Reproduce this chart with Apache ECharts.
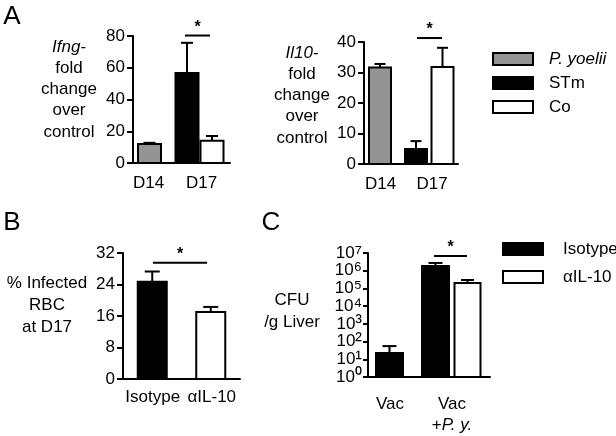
<!DOCTYPE html>
<html>
<head>
<meta charset="utf-8">
<script src="https://cdn.jsdelivr.net/npm/echarts@6/dist/echarts.min.js"></script>
<style>html,body{margin:0;padding:0;background:#fff}#c{width:616px;height:436px}</style>
</head>
<body>
<div id="c"></div>
<script>
// ---------- data ----------
const catsA = ['D14', 'D17'];
const ifngPyoelii = [12.0, null];
const ifngPyoeliiSem = [0.7, null];
const ifngSTm = [null, 56.7];
const ifngSTmSem = [null, 19.0];
const ifngCo = [null, 14.0];
const ifngCoSem = [null, 3.0];

const il10Pyoelii = [31.6, null];
const il10PyoeliiSem = [1.2, null];
const il10STm = [null, 4.9];
const il10STmSem = [null, 2.6];
const il10Co = [null, 31.8];
const il10CoSem = [null, 6.3];

const catsB = ['Isotype', 'αIL-10'];
const rbcIsotype = [24.7, null];
const rbcIsotypeSem = [2.6, null];
const rbcAIL10 = [null, 17.0];
const rbcAIL10Sem = [null, 1.3];

const catsC = ['Vac', 'Vac +P. y.'];
const cfuIsotype = [22.6, 1.85e6];
const cfuIsotypeSem = [33, 0.89e6];
const cfuAIL10 = [null, 2.03e5];
const cfuAIL10Sem = [null, 0.97e5];

// significance bars: [fromCategory, toCategory, height]
const sigIfng = [1, 1, 80.3];
const sigIl10 = [1, 1, 41.3];
const sigRbc = [0, 1, 29.5];
const sigCfu = [1, 1, 6.8e6];

const ticksIfng = [0, 80, 20];
const ticksIl10 = [0, 40, 10];
const ticksRbc = [0, 32, 8];
const ticksCfu = [1, 1e7];
const cfuTickValues = [1, 10, 100, 1e3, 1e4, 1e5, 1e6, 1e7];
const superDigits = ['⁰', '¹', '²', '³', '⁴', '⁵', '⁶', '⁷'];

// ---------- style ----------
const FONT = 'Liberation Sans, Arial, sans-serif';
const GRAY = '#939393';
const BLACK = '#000000';
const WHITE = '#ffffff';

function toData(vals, sems) {
  const out = [];
  vals.forEach((v, i) => { if (v != null) out.push([i, v, v + sems[i]]); });
  return out;
}

function barSeries(name, idx, vals, sems, fill, offsets, width, base) {
  return {
    type: 'custom', name: name, xAxisIndex: idx, yAxisIndex: idx,
    itemStyle: { color: fill, borderColor: '#000', borderWidth: 2 },
    encode: { x: 0, y: 1 },
    data: toData(vals, sems),
    clip: false,
    renderItem: function (params, api) {
      const ci = api.value(0);
      const top = api.coord([ci, api.value(1)]);
      const bot = api.coord([ci, base]);
      const err = api.coord([ci, api.value(2)]);
      const cx = top[0] + offsets[ci];
      const capW = Math.round(width * 0.5);
      return {
        type: 'group',
        children: [
          { type: 'line', shape: { x1: cx, y1: top[1], x2: cx, y2: err[1] }, style: { stroke: '#000', lineWidth: 2 } },
          { type: 'line', shape: { x1: cx - capW / 2, y1: err[1], x2: cx + capW / 2, y2: err[1] }, style: { stroke: '#000', lineWidth: 2 } },
          { type: 'rect', shape: { x: cx - width / 2, y: top[1], width: width, height: bot[1] - top[1] }, style: { fill: fill, stroke: '#000', lineWidth: 2 } }
        ]
      };
    }
  };
}

function sigSeries(idx, sig, offA, offB) {
  return {
    type: 'custom', xAxisIndex: idx, yAxisIndex: idx, silent: true,
    encode: { x: 0, y: 2 }, clip: false,
    data: [sig],
    renderItem: function (params, api) {
      const p1 = api.coord([api.value(0), api.value(2)]);
      const p2 = api.coord([api.value(1), api.value(2)]);
      const x1 = p1[0] + offA, x2 = p2[0] + offB, y = p1[1];
      return {
        type: 'group',
        children: [
          { type: 'line', shape: { x1: x1, y1: y, x2: x2, y2: y }, style: { stroke: '#000', lineWidth: 2 } },
          { type: 'text', style: { x: (x1 + x2) / 2, y: y - 8, text: '*', fill: '#000', font: 'bold 16px ' + FONT, align: 'center', verticalAlign: 'middle' } }
        ]
      };
    }
  };
}

// log-axis tick labels (10^n) placed through the axis scale
function logLabelSeries(idx, values) {
  return {
    type: 'custom', xAxisIndex: idx, yAxisIndex: idx, silent: true,
    encode: { x: 0, y: 1 }, clip: false,
    data: values.map(v => [0, v]),
    renderItem: function (params, api) {
      const v = api.value(1);
      const p = api.coord([0, v]);
      const ax = params.coordSys.x;
      return {
        type: 'text',
        style: {
          x: ax - 6, y: p[1],
          text: '{b|10}{s|' + superDigits[Math.round(Math.log10(v))] + '}',
          align: 'right', verticalAlign: 'middle',
          rich: {
            b: { fontSize: 17, fontFamily: FONT, fill: '#000', lineHeight: 17 },
            s: { fontSize: 20, fontFamily: FONT, fill: '#000', lineHeight: 17 }
          }
        }
      };
    }
  };
}

function shiftRich(shifts) {
  const rich = {};
  shifts.forEach((s, i) => {
    rich['L' + i] = { fontSize: 17, fontFamily: FONT, color: '#000', padding: s < 0 ? [0, -2 * s, 0, 0] : [0, 0, 0, 2 * s] };
  });
  return rich;
}

function catAxis(idx, cats, shifts, margin) {
  return {
    type: 'category', gridIndex: idx, data: cats,
    axisLine: { lineStyle: { color: '#000', width: 2 } },
    axisTick: { show: false },
    axisLabel: {
      margin: margin, interval: 0,
      formatter: (v, i) => '{L' + i + '|' + v + '}',
      rich: shiftRich(shifts)
    }
  };
}

function valAxis(idx, t) {
  return {
    type: 'value', gridIndex: idx, min: t[0], max: t[1], interval: t[2],
    splitLine: { show: false },
    axisLine: { show: true, lineStyle: { color: '#000', width: 2 } },
    axisTick: { show: true, length: 6, lineStyle: { color: '#000', width: 2 } },
    axisLabel: { color: '#000', fontSize: 17, fontFamily: FONT, margin: 8, showMinLabel: true, showMaxLabel: true }
  };
}

const chart = echarts.init(document.getElementById('c'), null, { renderer: 'canvas' });

const xC = catAxis(3, catsC, [0, 0], 17);
xC.axisLabel.formatter = (v, i) => i === 0 ? '{a|Vac}' : '{b|Vac}\n{c|+}{d|P. y.}';
xC.axisLabel.lineHeight = 21;
xC.axisLabel.rich = {
  a: { fontSize: 17, fontFamily: FONT, color: '#000', lineHeight: 21, padding: [0, 17, 0, 0] },
  b: { fontSize: 17, fontFamily: FONT, color: '#000', lineHeight: 21, padding: [0, 15, 0, 0] },
  c: { fontSize: 17, fontFamily: FONT, color: '#000', lineHeight: 21 },
  d: { fontSize: 17, fontFamily: FONT, color: '#000', lineHeight: 21, fontStyle: 'italic', padding: [0, 15, 0, 0] }
};

const yC = {
  type: 'log', gridIndex: 3, logBase: 10, min: ticksCfu[0], max: ticksCfu[1], interval: 1,
  splitLine: { show: false },
  axisLine: { show: true, lineStyle: { color: '#000', width: 2 } },
  axisTick: { show: true, length: 5, lineStyle: { color: '#000', width: 2 } },
  axisLabel: { show: false }
};

const option = {
  animation: false,
  backgroundColor: '#fff',
  textStyle: { fontFamily: FONT },
  grid: [
    { left: 133, top: 36, width: 97, height: 127, outerBoundsMode: 'none' },
    { left: 364, top: 42, width: 94, height: 122, outerBoundsMode: 'none' },
    { left: 123, top: 253, width: 117, height: 126, outerBoundsMode: 'none' },
    { left: 368, top: 253, width: 122, height: 124, outerBoundsMode: 'none' }
  ],
  xAxis: [
    catAxis(0, catsA, [-8.75, -4.25], 12),
    catAxis(1, catsA, [-7, -2.5], 12),
    catAxis(2, catsB, [0.5, 1], 10),
    xC
  ],
  yAxis: [valAxis(0, ticksIfng), valAxis(1, ticksIl10), valAxis(2, ticksRbc), yC],
  legend: [
    {
      data: ['P. yoelii', 'STm', 'Co'], orient: 'vertical', left: 492, top: 50.5, padding: 0,
      icon: 'rect', itemWidth: 40, itemHeight: 12, itemGap: 7, selectedMode: false,
      itemStyle: { borderColor: '#000', borderWidth: 2 },
      formatter: n => n === 'P. yoelii' ? '{i|P. yoelii}' : n,
      textStyle: { fontSize: 17, lineHeight: 17, color: '#000', fontFamily: FONT, padding: [0, 0, 0, 11],
        rich: { i: { fontStyle: 'italic', fontSize: 17, fontFamily: FONT, color: '#000' } } }
    },
    {
      data: ['Isotype', 'αIL-10'], orient: 'vertical', left: 502, top: 240.5, padding: 0,
      icon: 'rect', itemWidth: 40, itemHeight: 12, itemGap: 11, selectedMode: false,
      itemStyle: { borderColor: '#000', borderWidth: 2 },
      textStyle: { fontSize: 17, lineHeight: 17, color: '#000', fontFamily: FONT, padding: [0, 0, 0, 15] }
    }
  ],
  series: [
    barSeries('P. yoelii', 0, ifngPyoelii, ifngPyoeliiSem, GRAY, [-7.75, 0], 23, 0),
    barSeries('STm', 0, ifngSTm, ifngSTmSem, BLACK, [0, -18.75], 23, 0),
    barSeries('Co', 0, ifngCo, ifngCoSem, WHITE, [0, 6.25], 23, 0),
    sigSeries(0, sigIfng, -20.75, 4.25),

    barSeries('P. yoelii', 1, il10Pyoelii, il10PyoeliiSem, GRAY, [-7.5, 0], 22, 0),
    barSeries('STm', 1, il10STm, il10STmSem, BLACK, [0, -18.5], 22, 0),
    barSeries('Co', 1, il10Co, il10CoSem, WHITE, [0, 8], 22, 0),
    sigSeries(1, sigIl10, -17.5, 7.5),

    barSeries('Isotype', 2, rbcIsotype, rbcIsotypeSem, BLACK, [0, 0], 29, 0),
    barSeries('αIL-10', 2, rbcAIL10, rbcAIL10Sem, WHITE, [0, 0], 29, 0),
    sigSeries(2, sigRbc, 0.75, -3.75),

    barSeries('Isotype', 3, cfuIsotype, cfuIsotypeSem, BLACK, [-9, -24], 27, 1),
    barSeries('αIL-10', 3, cfuAIL10, cfuAIL10Sem, WHITE, [0, 8], 26, 1),
    sigSeries(3, sigCfu, -25.5, 7.5),
    logLabelSeries(3, cfuTickValues)
  ],
  graphic: [
    { type: 'text', style: { x: 12, y: 17, text: 'A', font: '26px ' + FONT, fill: '#000', align: 'center', verticalAlign: 'middle' } },
    { type: 'text', style: { x: 12, y: 223, text: 'B', font: '26px ' + FONT, fill: '#000', align: 'center', verticalAlign: 'middle' } },
    { type: 'text', style: { x: 271, y: 223, text: 'C', font: '26px ' + FONT, fill: '#000', align: 'center', verticalAlign: 'middle' } },
    { type: 'text', style: { x: 69, y: 89.5, text: '{i|Ifng-}\nfold\nchange\nover\ncontrol', font: '17px ' + FONT, lineHeight: 21.25, fill: '#000', align: 'center', verticalAlign: 'middle',
        rich: { i: { fontStyle: 'italic', fontSize: 17, fontFamily: FONT, lineHeight: 21.25 } } } },
    { type: 'text', style: { x: 302, y: 95.5, text: '{i|Il10-}\nfold\nchange\nover\ncontrol', font: '17px ' + FONT, lineHeight: 21.25, fill: '#000', align: 'center', verticalAlign: 'middle',
        rich: { i: { fontStyle: 'italic', fontSize: 17, fontFamily: FONT, lineHeight: 21.25 } } } },
    { type: 'text', style: { x: 47, y: 305, text: '% Infected\nRBC\nat D17', font: '17px ' + FONT, lineHeight: 22, fill: '#000', align: 'center', verticalAlign: 'middle' } },
    { type: 'text', style: { x: 292, y: 311, text: 'CFU\n/g Liver', font: '17px ' + FONT, lineHeight: 22, fill: '#000', align: 'center', verticalAlign: 'middle' } }
  ]
};
chart.setOption(option);
</script>
</body>
</html>
